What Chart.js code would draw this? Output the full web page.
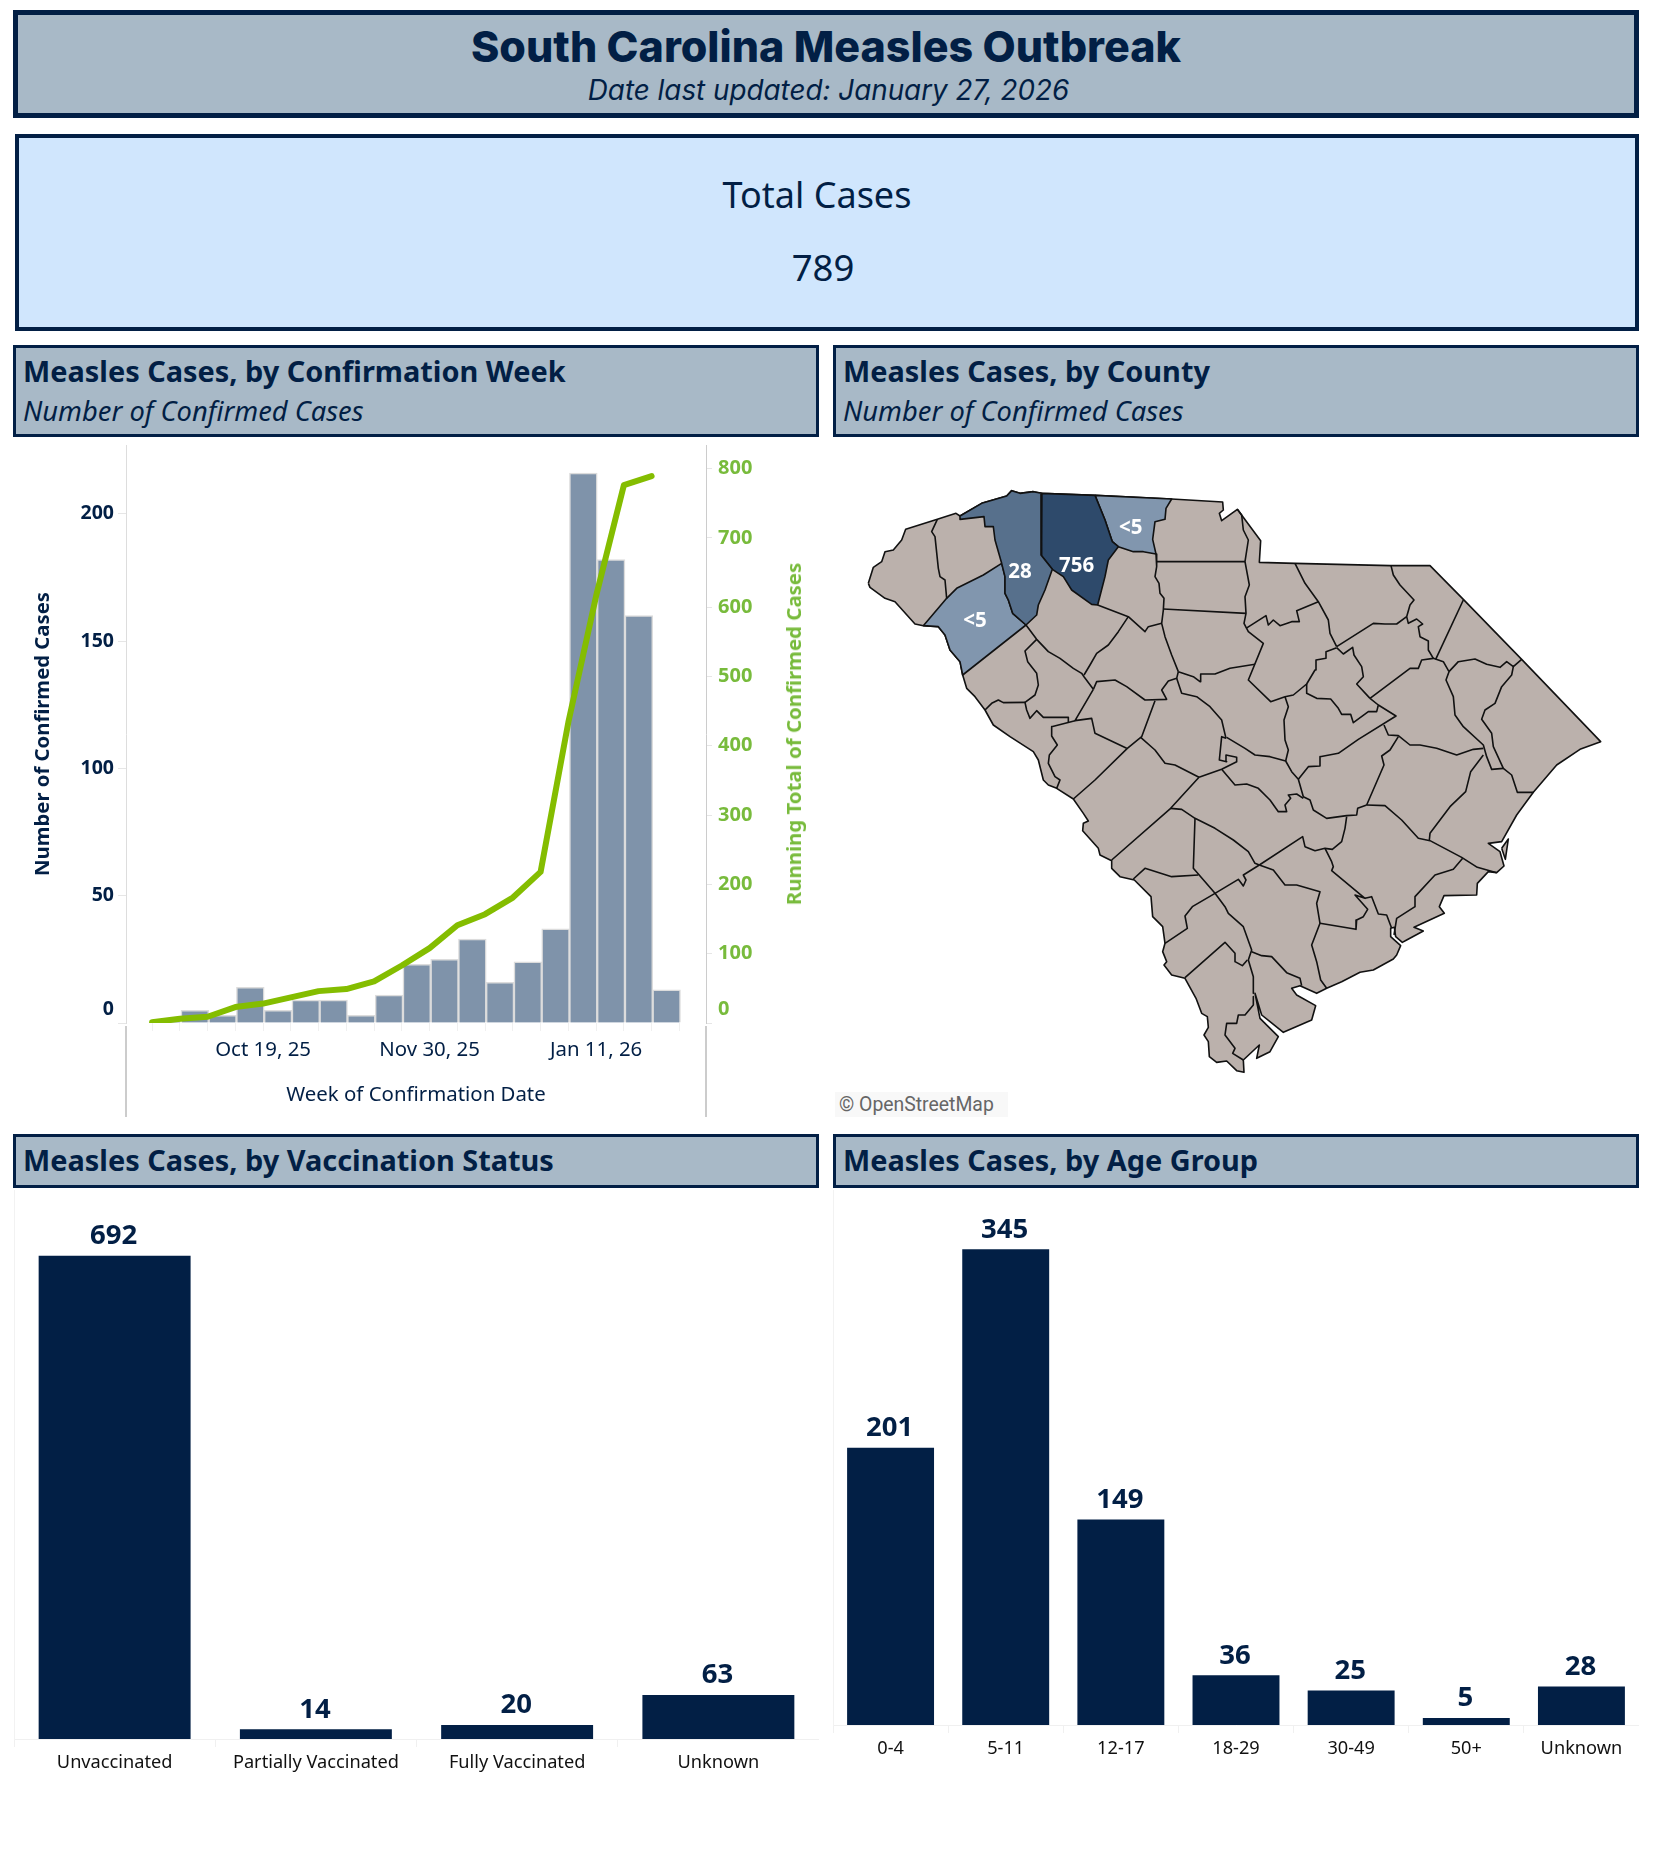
<!DOCTYPE html>
<html>
<head>
<meta charset="utf-8">
<title>South Carolina Measles Outbreak</title>
<script src="https://cdn.jsdelivr.net/npm/chart.js@4/dist/chart.umd.min.js"></script>
<style>
body { margin: 0; background: #fff; font-family: "Noto Sans", sans-serif; color: #021f45; }
#page { position: relative; width: 1654px; height: 1850px; overflow: hidden; }
#page > * { position: absolute; box-sizing: border-box; }
.box { border: 3px solid #021f45; background: #a8b9c7; }
.box b, .box i { position: absolute; left: 7px; white-space: nowrap; transform: translateY(-50%); }
.box b { font-size: 28.9px; }
.box i { font-size: 27.3px; }
.mid { left: 0; right: 0; text-align: center; position: absolute; transform: translateY(-50%); }
canvas { position: absolute; }
</style>
</head>
<body>
<div id="page">
  <div class="box" style="left:13px;top:10px;width:1626px;height:108px;border-width:5px">
    <div class="mid" style="top:31px;font:800 43px Inter,sans-serif;">South Carolina Measles Outbreak</div>
    <div class="mid" style="top:75px;left:5px;font:italic 400 27.8px Inter,sans-serif;">Date last updated: January 27, 2026</div>
  </div>
  <div class="box" style="left:15px;top:134px;width:1624px;height:197px;border-width:4px;background:#d0e6fd">
    <div class="mid" style="top:56px;font-size:36px;left:-20px">Total Cases</div>
    <div class="mid" style="top:129px;font-size:36.5px;left:-8px">789</div>
  </div>
  <div class="box" style="left:13px;top:345px;width:806px;height:92px"><b style="top:22px">Measles Cases, by Confirmation Week</b><i style="top:62px">Number of Confirmed Cases</i></div>
  <div class="box" style="left:833px;top:345px;width:806px;height:92px"><b style="top:22px">Measles Cases, by County</b><i style="top:62px">Number of Confirmed Cases</i></div>
  <div class="box" style="left:13px;top:1134px;width:806px;height:54px"><b style="top:22px">Measles Cases, by Vaccination Status</b></div>
  <div class="box" style="left:833px;top:1134px;width:806px;height:54px"><b style="top:22px">Measles Cases, by Age Group</b></div>

  <canvas id="weekChart" width="820" height="685" style="left:13px;top:440px"></canvas>
  <div style="left:793px;top:734px;font-weight:700;font-size:20.4px;color:#78bb3c;white-space:nowrap;transform:translate(-50%,-50%) rotate(-90deg)">Running Total of Confirmed Cases</div>

  <canvas id="mapChart" width="824" height="700" style="left:830px;top:440px"></canvas>
  <div style="left:835px;top:1092px;width:173px;height:25px;background:#f8f8f8;color:#666;font:19.4px Roboto,sans-serif;line-height:25px;padding-left:4px;white-space:nowrap">© OpenStreetMap</div>

  <canvas id="vaccChart" width="806" height="610" style="left:13px;top:1190px"></canvas>
  <canvas id="ageChart" width="807" height="610" style="left:832px;top:1190px"></canvas>
</div>

<script>
// weekly data
const weekLabels = ['Sep 21, 25','Sep 28, 25','Oct 5, 25','Oct 12, 25','Oct 19, 25','Oct 26, 25','Nov 2, 25','Nov 9, 25','Nov 16, 25','Nov 23, 25','Nov 30, 25','Dec 7, 25','Dec 14, 25','Dec 21, 25','Dec 28, 25','Jan 4, 26','Jan 11, 26','Jan 18, 26','Jan 25, 26'];
const weeklyCases = [1, 5, 3, 14, 5, 9, 9, 3, 11, 23, 25, 33, 16, 24, 37, 216, 182, 160, 13];
const runningTotal = [1, 6, 9, 23, 28, 37, 46, 49, 60, 83, 108, 141, 157, 181, 218, 434, 616, 776, 789];
const weekTicks = [4, 10, 16];

const vaccLabels = ['Unvaccinated', 'Partially Vaccinated', 'Fully Vaccinated', 'Unknown'];
const vaccCases = [692, 14, 20, 63];

const ageLabels = ['0-4', '5-11', '12-17', '18-29', '30-49', '50+', 'Unknown'];
const ageCases = [201, 345, 149, 36, 25, 5, 28];

// map labels, same units as the outlines below
const mapLabels = ['<5', '28', '756', '<5'];
const mapLabelX = [812, 480, 650, 345];
const mapLabelY = [145, 277, 258, 422];

// county shapes, map units
const stateOutline = [25,310,40,262,65,245,75,215,100,210,125,180,137,148,232,118,288,100,300,108,365,70,440,48,455,32,480,40,520,35,545,40,705,46,935,57,1088,66,1090,90,1078,100,1085,122,1132,88,1202,182,1198,247,1305,250,1590,257,1710,257,1810,358,1985,538,2222,785,2160,808,2090,855,2020,937,1970,1005,1925,1085,1885,1090,1920,1115,1932,1158,1910,1178,1885,1175,1852,1210,1850,1245,1752,1247,1738,1280,1753,1300,1662,1342,1690,1353,1640,1380,1627,1387,1607,1370,1603,1342,1592,1345,1592,1370,1622,1397,1610,1425,1600,1437,1540,1470,1500,1477,1445,1505,1400,1525,1370,1540,1320,1517,1295,1525,1310,1545,1367,1577,1355,1620,1270,1657,1230,1625,1205,1605,1185,1540,1200,1615,1255,1670,1230,1715,1190,1735,1198,1695,1150,1740,1152,1777,1130,1772,1100,1743,1070,1747,1048,1730,1045,1685,1032,1665,1045,1642,1042,1610,1025,1600,1008,1555,975,1495,935,1485,912,1455,920,1445,908,1415,915,1390,908,1340,878,1310,873,1250,823,1200,780,1190,755,1165,755,1142,720,1125,715,1105,668,1052,670,1030,685,1023,670,1000,640,957,590,925,565,915,550,900,535,840,520,815,450,770,400,735,375,690,345,650,320,625,308,585,300,545,270,510,255,465,235,440,190,437,165,432,105,365,75,355,30,322,25,310];
const islandShape = [1925,1105,1945,1077,1936,1138,1925,1105];
const greenvilleShape = [300,108,365,70,440,48,455,32,480,40,520,35,545,40,543,225,577,268,555,330,535,375,530,405,498,435,458,400,445,360,435,340,435,290,425,250,405,180,400,140,375,140,372,110,300,118,300,108];
const spartanburgShape = [545,40,705,46,735,120,757,185,775,200,745,240,735,290,713,375,695,373,635,330,610,290,577,268,543,225,545,40];
const cherokeeShape = [705,46,935,57,918,85,915,118,885,125,878,178,888,222,850,215,820,215,775,200,757,185,735,120,705,46];
const andersonShape = [425,250,435,290,435,340,445,360,458,400,498,435,308,585,300,545,270,510,255,465,235,440,190,437,260,355,290,325,370,285,425,250];
const countyLines = [
  [232,118,215,155,225,170,235,265,240,290,255,300,260,355],
  [498,435,530,478,565,515,600,535,640,565,665,580,672,590,700,628],
  [530,478,495,513,503,545,530,580,535,615,525,645,495,667,500,690,510,715,530,692,550,712,625,712,625,725],
  [495,667,430,668,415,660,395,670,375,690],
  [805,410,775,455,745,495,710,520,690,555,672,585],
  [713,375,805,410,855,455,865,440,905,430],
  [888,222,890,260,885,290,897,310,900,340,912,355,910,390,905,430,915,470,935,525,955,575],
  [890,245,1155,245],
  [910,387,1158,400],
  [955,575,1000,590,1020,605,1022,582,1065,582,1110,565,1185,553],
  [700,628,710,605,765,600,800,620,855,660,920,658,905,630,925,603,950,595,955,575],
  [700,628,645,722,695,715,705,760,800,805],
  [885,662,845,770,802,805,705,900,640,957],
  [645,722,575,740,575,768,592,795,568,825,565,850,585,890,600,900,590,925],
  [950,595,965,640,1010,650,1050,680,1085,720,1098,775],
  [1132,88,1145,105,1150,150,1165,180,1155,245,1168,315,1155,350,1158,400,1152,430,1165,455,1210,490,1165,600,1232,665,1275,650,1300,645,1340,612,1365,570,1368,540,1398,535,1398,515,1430,503],
  [1305,250,1335,310,1375,365,1405,420,1410,460,1430,500],
  [1158,445,1218,407,1225,435,1240,420,1260,437,1295,425,1318,425,1310,392,1375,365],
  [1430,503,1450,522,1478,502,1482,525,1505,560,1510,590,1490,612,1530,655],
  [1430,500,1540,430,1575,432,1610,432,1640,410],
  [1593,257,1600,285,1620,315,1662,360,1650,375,1640,410,1645,430,1670,417,1688,432,1675,440,1680,470,1705,483,1705,510,1720,535],
  [1530,655,1650,565,1675,565,1685,540,1720,535,1750,545,1767,575],
  [1810,360,1727,538],
  [1767,575,1795,545,1845,537,1880,553,1920,562,1940,545,1960,560,1985,538],
  [1960,560,1955,585,1925,620,1905,670,1875,690,1865,718,1895,760,1900,800,1930,865,1955,885,1972,937,2020,937],
  [1767,575,1758,600,1780,650,1785,705,1810,740,1870,795,1880,830,1895,868,1930,865],
  [1530,655,1555,675,1550,695,1525,695,1480,728,1472,703,1445,703,1435,685,1412,657,1370,655,1340,640,1340,612],
  [1555,675,1608,708,1495,778,1435,820,1380,830,1380,858,1345,860,1315,898],
  [1572,735,1585,765,1615,767,1650,795,1680,795,1730,805,1790,825,1840,808,1870,805],
  [1615,770,1590,810,1565,828,1572,855,1520,975],
  [1870,825,1832,875,1817,935,1770,980,1740,1020,1710,1060,1708,1080],
  [1520,975,1575,977,1625,1020,1675,1075,1710,1082,1805,1132,1852,1162,1910,1178],
  [1808,1135,1780,1168,1725,1185,1665,1250,1665,1280,1610,1315,1602,1365],
  [1275,650,1285,680,1272,720,1275,780,1285,810,1277,843],
  [1100,772,1155,805,1185,825,1230,830,1277,843,1295,875,1315,898,1330,950,1350,960,1360,990,1400,1015,1460,1007,1490,1005,1493,985,1520,975],
  [1098,775,1085,770,1078,840,1100,845,1098,825,1130,832,1130,845,1085,868,1017,892],
  [1085,868,1125,915,1160,912,1195,925,1230,960,1255,995,1280,995,1275,975,1292,955,1285,945,1310,942,1330,955],
  [1460,1010,1455,1045,1445,1085,1417,1108,1395,1105,1365,1112,1335,1100,1328,1070,1198,1155],
  [1395,1105,1415,1145,1420,1160,1415,1172,1515,1255,1485,1245,1523,1288,1510,1310,1490,1320,1488,1348,1380,1330],
  [1515,1255,1535,1250,1555,1302,1580,1305,1595,1345],
  [1198,1155,1240,1170,1275,1215,1310,1215,1380,1235,1370,1270,1380,1330,1355,1395,1370,1445,1382,1500,1400,1525],
  [1017,892,932,985,755,1140],
  [842,772,885,810,915,850,945,855,1017,892],
  [932,985,965,988,1005,1015,1065,1045,1120,1080,1165,1115,1185,1150,1198,1155],
  [1005,1015,1000,1165,1065,1240,1095,1280,1105,1300,1150,1340,1175,1410,1165,1440,1180,1490,1180,1540],
  [820,1197,855,1165,935,1190,1015,1185],
  [1198,1155,1150,1185,1158,1200,1150,1218,1135,1198,1065,1240,997,1280,975,1308,982,1345,915,1390],
  [975,1493,1095,1387,1125,1420,1125,1445,1147,1457,1162,1440],
  [1175,1415,1205,1427,1235,1430,1280,1478,1320,1495,1325,1517],
  [1180,1550,1180,1575,1155,1605,1135,1605,1130,1630,1100,1630,1095,1665,1125,1705,1118,1720,1150,1740]
];

const navy = '#021f45';
const green = '#78bb3c';
const family = '"Noto Sans", sans-serif';
Chart.defaults.animation = false;
Chart.defaults.font.family = family;
Chart.defaults.color = navy;
Chart.defaults.plugins.legend.display = false;
Chart.defaults.plugins.tooltip.enabled = false;

function pairs(flat) {
  const out = [];
  for (let i = 0; i < flat.length; i += 2) out.push({ x: flat[i], y: flat[i + 1] });
  return out;
}

// fixed axis boxes, so the plot area lands where it should
function fixedWidth(w) { return s => { s.width = w; s.paddingTop = 0; s.paddingBottom = 0; }; }
function fixedHeight(h) { return s => { s.height = h; s.paddingLeft = 0; s.paddingRight = 0; }; }
function zeroUp(v) { return v === 0 ? ['0', ''] : String(v); }

// the axis lines carry on under the baseline, with a small gap
const lowerLines = {
  id: 'lowerLines',
  afterDraw(chart) {
    const { ctx, chartArea: a } = chart;
    ctx.save();
    ctx.strokeStyle = '#cccccc';
    ctx.lineWidth = 2;
    [a.left, a.right].forEach(x => {
      ctx.beginPath();
      ctx.moveTo(x, a.bottom + 3);
      ctx.lineTo(x, a.bottom + 94);
      ctx.stroke();
    });
    ctx.restore();
  }
};

new Chart(document.getElementById('weekChart'), {
  type: 'bar',
  data: {
    datasets: [
      { type: 'line', yAxisID: 'y1', order: 0, data: runningTotal.map((v, i) => ({ x: i, y: v })), borderColor: '#84bd00', borderWidth: 6, pointRadius: 0, tension: 0, borderCapStyle: 'round', borderJoinStyle: 'round', fill: false },
      { yAxisID: 'y', order: 1, data: weeklyCases.map((v, i) => ({ x: i + 0.54, y: v })), backgroundColor: '#7f93aa', borderColor: '#dcdcdc', borderWidth: 1.5, barPercentage: 1, categoryPercentage: 1 }
    ]
  },
  options: {
    responsive: false,
    layout: { padding: { top: 5 } },
    scales: {
      x: {
        type: 'linear', min: -0.94, max: 19.96, offset: false, afterFit: fixedHeight(102),
        grid: { offset: false, drawOnChartArea: false, color: '#f0f0f0', tickLength: 8 },
        border: { display: false },
        ticks: { stepSize: 1, autoSkip: false, maxRotation: 0, includeBounds: false, padding: 7, font: { size: 20.4 }, color: navy, callback: v => weekTicks.includes(v) ? weekLabels[v] : '' },
        title: { display: true, text: 'Week of Confirmation Date', font: { size: 20.4 }, color: navy, padding: { top: 0, bottom: 18 } }
      },
      y: {
        position: 'left', min: 0, max: 227, afterFit: fixedWidth(113),
        grid: { drawOnChartArea: false, color: '#e6e6e6', tickLength: 8 },
        border: { color: '#dddddd' },
        ticks: { stepSize: 50, includeBounds: false, padding: 4, font: { size: 19.5, weight: 'bold', lineHeight: 1.436 }, color: navy, callback: zeroUp },
        title: { display: true, text: 'Number of Confirmed Cases', font: { size: 20.3, weight: 'bold' }, color: navy, padding: { top: 18, bottom: 0 } }
      },
      y1: {
        position: 'right', min: 0, max: 834, afterFit: fixedWidth(127),
        grid: { drawOnChartArea: false, color: '#e6e6e6', tickLength: 6 },
        border: { color: '#cccccc' },
        ticks: { stepSize: 100, includeBounds: false, padding: 6, font: { size: 20, weight: 'bold', lineHeight: 1.4 }, color: green, callback: zeroUp }
      }
    }
  },
  plugins: [lowerLines]
});

const mapLabelPlugin = {
  id: 'mapLabelPlugin',
  afterDatasetsDraw(chart) {
    const { ctx, scales } = chart;
    ctx.save();
    ctx.fillStyle = '#ffffff';
    ctx.font = 'bold 20.5px ' + family;
    ctx.textAlign = 'center';
    ctx.textBaseline = 'middle';
    mapLabels.forEach((t, i) => ctx.fillText(t, scales.x.getPixelForValue(mapLabelX[i]), scales.y.getPixelForValue(mapLabelY[i])));
    ctx.restore();
  }
};

function mapShape(flat, color) {
  return { data: pairs(flat), showLine: true, pointRadius: 0, tension: 0, fill: 'shape', backgroundColor: color, borderColor: '#111111', borderWidth: 1.6, borderJoinStyle: 'round' };
}

new Chart(document.getElementById('mapChart'), {
  type: 'scatter',
  data: {
    datasets: [
      ...countyLines.map(l => ({ data: pairs(l), showLine: true, pointRadius: 0, tension: 0, fill: false, borderColor: '#111111', borderWidth: 1.6, borderJoinStyle: 'round' })),
      mapShape(greenvilleShape, '#57708c'),
      mapShape(spartanburgShape, '#2e4a6b'),
      mapShape(cherokeeShape, '#8196ae'),
      mapShape(andersonShape, '#8196ae'),
      mapShape(islandShape, '#bbb1ac'),
      mapShape(stateOutline, '#bbb1ac')
    ]
  },
  options: {
    responsive: false,
    layout: { padding: 0 },
    scales: {
      x: { type: 'linear', display: false, min: -90, max: 2382 },
      y: { type: 'linear', display: false, reverse: true, min: -120, max: 1980 }
    }
  },
  plugins: [mapLabelPlugin]
});

const valueLabels = {
  id: 'valueLabels',
  afterDatasetsDraw(chart) {
    const { ctx } = chart;
    const meta = chart.getDatasetMeta(0);
    ctx.save();
    ctx.fillStyle = navy;
    ctx.font = 'bold 27.5px ' + family;
    ctx.textAlign = 'center';
    ctx.textBaseline = 'middle';
    meta.data.forEach((bar, i) => ctx.fillText(chart.data.datasets[0].data[i], bar.x - 1, bar.y - 19.5));
    ctx.restore();
  }
};

function columnChart(id, labels, values, yMax, xHeight) {
  return new Chart(document.getElementById(id), {
    type: 'bar',
    data: { labels, datasets: [{ data: values, backgroundColor: navy, barPercentage: 0.755, categoryPercentage: 1 }] },
    options: {
      responsive: false,
      layout: { padding: 0 },
      scales: {
        x: {
          afterFit: fixedHeight(xHeight),
          grid: { drawOnChartArea: false, color: '#f0f0f0', tickLength: 8 },
          border: { color: '#f0f0f0' },
          ticks: { autoSkip: false, maxRotation: 0, padding: 5, font: { size: 18.2 }, color: '#111111' }
        },
        y: {
          min: 0, max: yMax, afterFit: fixedWidth(1),
          grid: { display: false },
          border: { color: '#f2f2f2' },
          ticks: { display: false }
        }
      }
    },
    plugins: [valueLabels]
  });
}

columnChart('vaccChart', vaccLabels, vaccCases, 786, 61);
columnChart('ageChart', ageLabels, ageCases, 388, 75);
</script>
</body>
</html>
